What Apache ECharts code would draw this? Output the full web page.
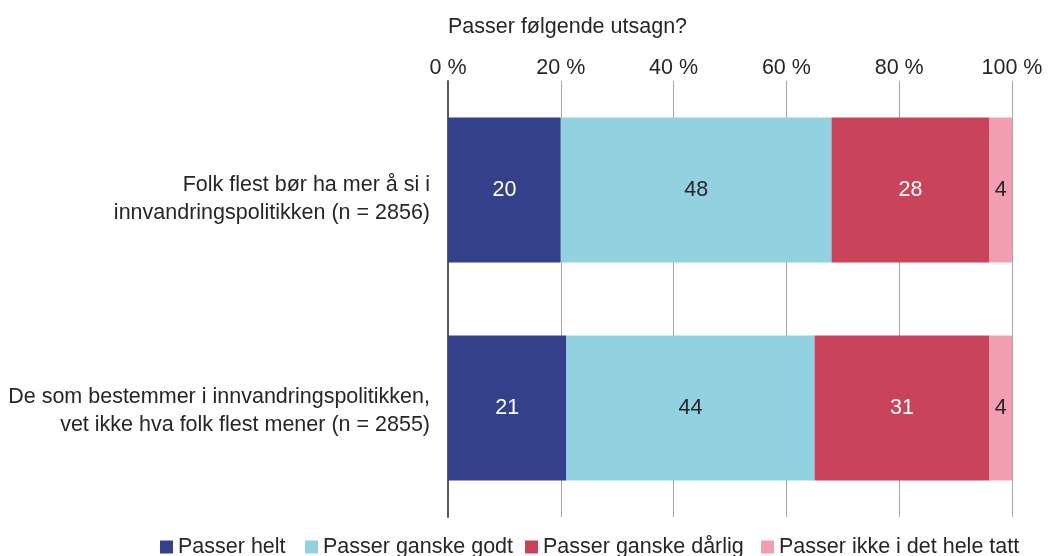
<!DOCTYPE html>
<html>
<head>
<meta charset="utf-8">
<script src="https://cdn.jsdelivr.net/npm/echarts@6/dist/echarts.min.js"></script>
<style>
  html, body { margin: 0; padding: 0; background: #fff; }
  #chart { width: 1049px; height: 556px; }
</style>
</head>
<body>
<div id="chart"></div>
<script>
// Statements asked about (top to bottom)
const categories = [
  'Folk flest bør ha mer å si i\ninnvandringspolitikken (n = 2856)',
  'De som bestemmer i innvandringspolitikken,\nvet ikke hva folk flest mener (n = 2855)'
];
// Share of answers (%), per answer option
const seriesNames = ['Passer helt', 'Passer ganske godt', 'Passer ganske dårlig', 'Passer ikke i det hele tatt'];
const passerHelt = [20, 21];
const passerGanskeGodt = [48, 44];
const passerGanskeDarlig = [28, 31];
const passerIkke = [4, 4];
const tickValues = [0, 20, 40, 60, 80, 100];

const colors = ['#34418A', '#92D1E0', '#C9435A', '#F29DB0'];
const labelColors = ['#ffffff', '#262626', '#ffffff', '#262626'];
const values = [passerHelt, passerGanskeGodt, passerGanskeDarlig, passerIkke];
const FONT = '"Liberation Sans", Arial, sans-serif';
const FS = 21.5;
const TEXT = '#262626';

// Legend entries are placed one by one along the bottom row
const legendLefts = [155, 300, 520, 756];
// Extra space above each category label, nudging the text block down
const labelSpacer = [18, 7];

const chart = echarts.init(document.getElementById('chart'), null, { renderer: 'canvas' });

chart.setOption({
  animation: false,
  textStyle: { fontFamily: FONT },
  title: {
    text: 'Passer følgende utsagn?',
    left: 443,
    top: 11,
    textStyle: { fontFamily: FONT, fontSize: FS, fontWeight: 'normal', color: TEXT }
  },
  legend: seriesNames.map((name, i) => ({
    data: [name],
    left: legendLefts[i],
    top: 531,
    itemWidth: 13, itemHeight: 13,
    icon: 'rect',
    textStyle: { fontFamily: FONT, fontSize: FS, color: TEXT, padding: [3, 0, 0, 0] }
  })),
  grid: { left: 448, right: 37, top: 81, bottom: 39 },
  xAxis: {
    type: 'value',
    position: 'top',
    min: 0, max: 100, interval: 20,
    axisLine: { show: false },
    axisTick: { show: false },
    axisLabel: {
      fontFamily: FONT, fontSize: FS, color: TEXT, margin: 2,
      formatter: v => (tickValues.includes(v) ? v + ' %' : '')
    },
    splitLine: { show: true, lineStyle: { color: '#A6A6A6', width: 1 } }
  },
  yAxis: {
    type: 'category',
    inverse: true,
    data: categories,
    axisLine: { show: true, lineStyle: { color: '#595959', width: 2 } },
    axisTick: { show: false },
    axisLabel: {
      margin: 18,
      align: 'right',
      formatter: (v, i) => '{s' + i + '|\u200b}\n' + v.split('\n').map(l => '{t|' + l + '}').join('\n'),
      rich: {
        s0: { fontSize: 1, lineHeight: labelSpacer[0], align: 'right' },
        s1: { fontSize: 1, lineHeight: labelSpacer[1], align: 'right' },
        t: { fontFamily: FONT, fontSize: FS, color: TEXT, lineHeight: 28, align: 'right' }
      }
    }
  },
  series: seriesNames.map((name, i) => ({
    name,
    type: 'bar',
    stack: 'total',
    barWidth: 145,
    data: values[i],
    itemStyle: { color: colors[i] },
    label: {
      show: true,
      position: 'inside',
      fontFamily: FONT,
      fontSize: FS,
      color: labelColors[i],
      formatter: p => p.value
    }
  }))
});
</script>
</body>
</html>
